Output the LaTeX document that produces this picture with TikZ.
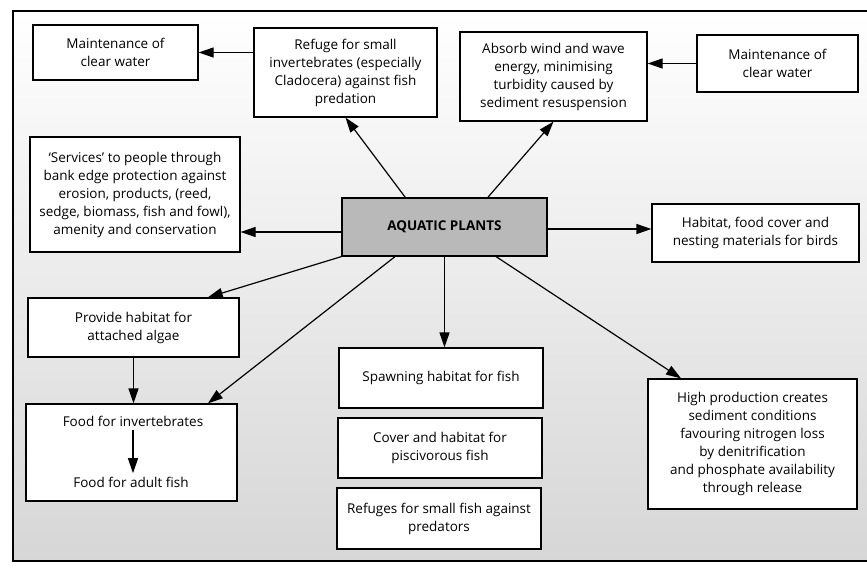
\documentclass[tikz,border=0pt]{standalone}
\usepackage{fontspec}
\setmainfont{Open Sans}
\usepackage{tikz}
\usetikzlibrary{shapes, arrows.meta, positioning, calc}

\begin{document}
\begin{tikzpicture}[x=1pt, y=-1pt,
  box/.style={draw, line width=1.2pt, fill=white, align=center, inner sep=1pt, font=\fontsize{13.5}{18}\selectfont},
  plantbox/.style={box, fill=gray!55, font=\fontsize{13.5}{18}\selectfont\bfseries},
  arr/.style={-{Triangle[length=15pt, width=10pt]}, line width=1.2pt}
]
  \useasboundingbox (0,0) rectangle (867,570);
  \fill[top color=white, middle color=white, bottom color=gray!32] (13,11) rectangle (867,561);
  \draw[line width=1.2pt] (867,11) -- (13,11) -- (13,561) -- (867,561);

  \node[box, minimum width=165pt, minimum height=55pt] (mcwleft) at (115.5,52.5) {Maintenance of\\clear water};
  \node[box, minimum width=183pt, minimum height=89pt] (refuge) at (345.5,72.5) {Refuge for small\\invertebrates (especially\\Cladocera) against fish\\predation};
  \node[box, minimum width=187pt, minimum height=89pt] (absorb) at (553.5,76.5) {Absorb wind and wave\\energy, minimising\\turbidity caused by\\sediment resuspension};
  \node[box, minimum width=161pt, minimum height=57pt] (mcwright) at (777.5,63.5) {Maintenance of\\clear water};
  \node[box, minimum width=210pt, minimum height=115pt] (services) at (135,194.5) {`Services' to people through\\bank edge protection against\\erosion, products, (reed,\\sedge, biomass, fish and fowl),\\amenity and conservation};
  \node[plantbox, minimum width=205pt, minimum height=58pt] (plants) at (444.5,227) {AQUATIC PLANTS};
  \node[box, minimum width=207pt, minimum height=58pt] (birds) at (755.5,233) {Habitat, food cover and\\nesting materials for birds};
  \node[box, minimum width=211pt, minimum height=59pt] (algae) at (133.5,327.5) {Provide habitat for\\attached algae};
  \node[box, minimum width=211pt, minimum height=97pt] (food) at (131.5,452.5) {};
  \node[font=\fontsize{13.5}{18}\selectfont] (foodinv) at (133,421) {Food for invertebrates};
  \node[font=\fontsize{13.5}{18}\selectfont] (foodfish) at (131,482) {Food for adult fish};
  \node[box, minimum width=204pt, minimum height=60pt] (spawn) at (441,378) {Spawning habitat for fish};
  \node[box, minimum width=204pt, minimum height=60pt] (cover) at (440,448) {Cover and habitat for\\piscivorous fish};
  \node[box, minimum width=204pt, minimum height=61pt] (refuges) at (439,518.5) {Refuges for small fish against\\predators};
  \node[box, minimum width=209pt, minimum height=130pt] (highprod) at (752.5,444) {High production creates\\sediment conditions\\favouring nitrogen loss\\by denitrification\\and phosphate availability\\through release};

  \draw[arr] ($(plants.north west)!0.31!(plants.north east)$) -- (refuge.south);
  \draw[arr] ($(plants.north west)!0.71!(plants.north east)$) -- (absorb.south);
  \draw[arr] (refuge.west |- mcwleft.east) -- (mcwleft.east);
  \draw[arr] (mcwright.west) -- (mcwright.west -| absorb.east);
  \draw[arr] ([yshift=-5pt]plants.west) -- ([yshift=-5pt]plants.west -| services.east);
  \draw[arr] ([yshift=-2pt]plants.east) -- ([yshift=-2pt]plants.east -| birds.west);
  \draw[arr] (plants.south west) -- ($(algae.north west)!0.85!(algae.north east)$);
  \draw[arr] ($(plants.south west)!0.26!(plants.south east)$) -- ($(food.north west)!0.86!(food.north east)$);
  \draw[arr] (plants.south) -- (plants.south |- spawn.north);
  \draw[arr] ($(plants.south west)!0.75!(plants.south east)$) -- ($(highprod.north west)!0.16!(highprod.north east)$);
  \draw[arr] (algae.south) -- (algae.south |- food.north);
  \draw[arr] (foodinv.south) -- (foodinv.south |- foodfish.north);
\end{tikzpicture}
\end{document}
